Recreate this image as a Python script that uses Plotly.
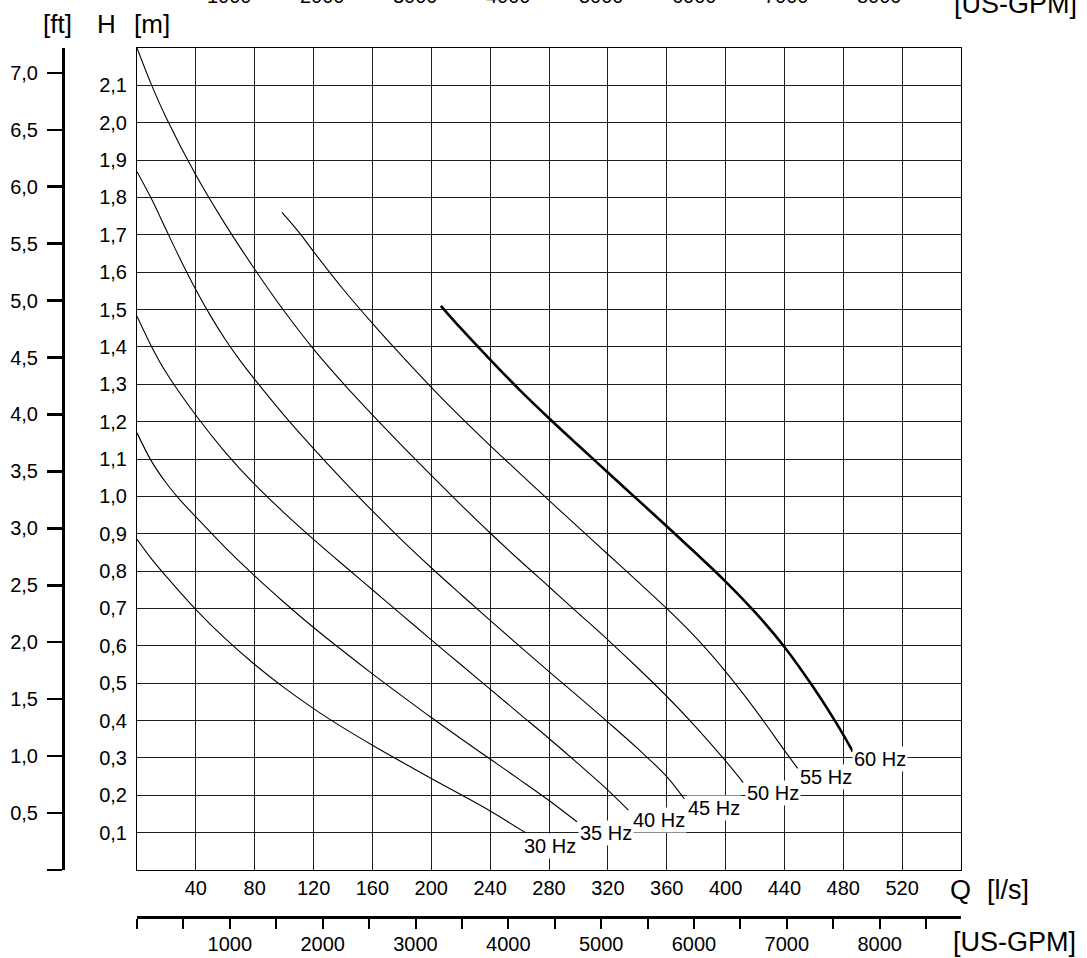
import plotly.graph_objects as go

FONT = "Liberation Sans, Arial, Helvetica, sans-serif"

# unit conversions
GPM_PER_LPS = 15.850323
FT_PER_M = 1.0 / 0.3048

Q_MAX = 560
H_MAX = 2.2

# axis ticks / labels
Q_TICKS = [40, 80, 120, 160, 200, 240, 280, 320, 360, 400, 440, 480, 520]
H_TICKS = [0.1, 0.2, 0.3, 0.4, 0.5, 0.6, 0.7, 0.8, 0.9, 1.0, 1.1,
           1.2, 1.3, 1.4, 1.5, 1.6, 1.7, 1.8, 1.9, 2.0, 2.1]
FT_TICKS = [0, 0.5, 1.0, 1.5, 2.0, 2.5, 3.0, 3.5, 4.0, 4.5, 5.0, 5.5, 6.0, 6.5, 7.0]
FT_LABELS = ["", "0,5", "1,0", "1,5", "2,0", "2,5", "3,0", "3,5", "4,0",
             "4,5", "5,0", "5,5", "6,0", "6,5", "7,0"]
GPM_TICKS = [0, 500, 1000, 1500, 2000, 2500, 3000, 3500, 4000, 4500,
             5000, 5500, 6000, 6500, 7000, 7500, 8000, 8500]
GPM_LABELS = ["", "", "1000", "", "2000", "", "3000", "", "4000", "",
              "5000", "", "6000", "", "7000", "", "8000", ""]
TOP_GPM_VALUES = [1000, 2000, 3000, 4000, 5000, 6000, 7000, 8000]

# pump curves: Q [l/s], H [m]
Q_30 = [0, 10, 20, 40, 60, 80, 100, 120, 140, 160, 180, 200, 220, 240, 264]
H_30 = [0.885, 0.832, 0.785, 0.697, 0.619, 0.55, 0.488, 0.432, 0.381, 0.334,
        0.289, 0.245, 0.202, 0.158, 0.10]

Q_35 = [0, 10, 20, 30, 40, 60, 80, 100, 120, 140, 160, 180, 200, 220, 240,
        260, 280, 299]
H_35 = [1.17, 1.093, 1.035, 0.987, 0.945, 0.863, 0.787, 0.716, 0.649, 0.586,
        0.525, 0.466, 0.408, 0.352, 0.297, 0.242, 0.186, 0.129]

Q_40 = [0, 10, 20, 40, 60, 80, 100, 120, 140, 160, 180, 200, 220, 240, 260,
        280, 300, 320, 334]
H_40 = [1.482, 1.40, 1.33, 1.217, 1.118, 1.032, 0.956, 0.885, 0.817, 0.75,
        0.683, 0.616, 0.55, 0.484, 0.418, 0.352, 0.284, 0.214, 0.16]

Q_45 = [0, 10, 20, 30, 40, 50, 60, 70, 80, 100, 120, 140, 160, 180, 200, 220,
        240, 260, 280, 300, 320, 340, 360, 372]
H_45 = [1.869, 1.795, 1.712, 1.63, 1.553, 1.483, 1.42, 1.364, 1.313, 1.217,
        1.128, 1.043, 0.961, 0.883, 0.809, 0.738, 0.668, 0.599, 0.531, 0.464,
        0.396, 0.326, 0.25, 0.19]

Q_50 = [0, 10, 20, 40, 60, 80, 100, 120, 140, 160, 180, 200, 220, 240, 260,
        280, 300, 320, 340, 360, 380, 400, 412]
H_50 = [2.2, 2.1, 2.012, 1.86, 1.728, 1.608, 1.496, 1.394, 1.303, 1.218,
        1.136, 1.056, 0.978, 0.902, 0.829, 0.758, 0.687, 0.616, 0.542, 0.465,
        0.382, 0.292, 0.234]

Q_55 = [98.5, 110, 120, 140, 160, 180, 200, 220, 240, 260, 280, 300, 320,
        340, 360, 380, 400, 420, 440, 449]
H_55 = [1.76, 1.707, 1.655, 1.555, 1.463, 1.376, 1.292, 1.212, 1.136, 1.062,
        0.989, 0.917, 0.845, 0.773, 0.70, 0.621, 0.531, 0.43, 0.32, 0.272]

Q_60 = [206.5, 220, 240, 260, 280, 300, 320, 340, 360, 380, 400, 420, 440,
        460, 475, 486.5]
H_60 = [1.51, 1.45, 1.366, 1.285, 1.209, 1.136, 1.064, 0.992, 0.92, 0.847,
        0.772, 0.69, 0.597, 0.487, 0.395, 0.317]

CURVE_NAMES = ["30 Hz", "35 Hz", "40 Hz", "45 Hz", "50 Hz", "55 Hz", "60 Hz"]
CURVE_Q = [Q_30, Q_35, Q_40, Q_45, Q_50, Q_55, Q_60]
CURVE_H = [H_30, H_35, H_40, H_45, H_50, H_55, H_60]
CURVE_WIDTH = [1.1, 1.1, 1.1, 1.1, 1.1, 1.1, 2.6]

# curve label positions (text centres) in Q / H
LABEL_Q = [280.5, 319.0, 354.7, 392.0, 432.0, 468.4, 505.0]
LABEL_H = [0.063, 0.099, 0.134, 0.166, 0.205, 0.250, 0.297]

# layout geometry (pixels)
W, H = 1087, 958
ML, MR, MT, MB = 63, 126, 48, 41
PLOT_LEFT, PLOT_BOTTOM = 137, 870
paper_w = W - ML - MR
paper_h = H - MT - MB
X0 = (PLOT_LEFT - ML) / paper_w
Y0 = (H - MB - PLOT_BOTTOM) / paper_h

fig = go.Figure()
for name, q, h, w in zip(CURVE_NAMES, CURVE_Q, CURVE_H, CURVE_WIDTH):
    fig.add_trace(go.Scatter(
        x=q, y=h, mode="lines", name=name,
        line=dict(color="black", width=w, shape="spline", smoothing=1.0),
        hoverinfo="skip", xaxis="x", yaxis="y"))

# invisible helper traces so the secondary scales (US-GPM, ft) are drawn
fig.add_trace(go.Scatter(x=[0], y=[0], xaxis="x2", yaxis="y", mode="markers",
                         marker=dict(opacity=0, size=1), hoverinfo="skip"))
fig.add_trace(go.Scatter(x=[0], y=[0], xaxis="x", yaxis="y2", mode="markers",
                         marker=dict(opacity=0, size=1), hoverinfo="skip"))

annotations = []
for name, lq, lh in zip(CURVE_NAMES, LABEL_Q, LABEL_H):
    annotations.append(dict(
        x=lq, y=lh, xref="x", yref="y", text=name, showarrow=False,
        font=dict(family=FONT, size=20, color="black"),
        bgcolor="white", borderpad=1, xanchor="center", yanchor="middle"))

# partially clipped top US-GPM scale
for g in TOP_GPM_VALUES:
    annotations.append(dict(
        x=g / GPM_PER_LPS, y=1, xref="x", yref="paper", text=str(g),
        showarrow=False, font=dict(family=FONT, size=20, color="black"),
        xanchor="center", yanchor="middle", yshift=MT + 4))
annotations.append(dict(
    x=1, y=1, xref="paper", yref="paper", text="[US-GPM]", showarrow=False,
    font=dict(family=FONT, size=27, color="black"),
    xanchor="left", yanchor="middle", xshift=-9, yshift=MT - 4))


def pix_note(text, px, py, size=26, xanchor="center"):
    return dict(x=0, y=1, xref="paper", yref="paper", text=text,
                showarrow=False, font=dict(family=FONT, size=size, color="black"),
                xanchor=xanchor, yanchor="middle",
                xshift=px - ML, yshift=MT - py)


annotations += [
    pix_note("[ft]", 57.5, 24),
    pix_note("H", 106, 24),
    pix_note("[m]", 151.5, 24),
    pix_note("Q", 960, 890, size=27),
    pix_note("[l/s]", 1008, 890, size=27),
    pix_note("[US-GPM]", 951, 942, size=27, xanchor="left"),
]

grid_col = "#1e1e1e"
fig.update_layout(
    width=W, height=H, autosize=False,
    margin=dict(l=ML, r=MR, t=MT, b=MB, pad=0, autoexpand=False),
    paper_bgcolor="white", plot_bgcolor="white",
    showlegend=False, separators=",.",
    font=dict(family=FONT, size=20, color="black"),
    xaxis=dict(domain=[X0, 1], range=[0, Q_MAX], tickvals=Q_TICKS,
               showgrid=True, gridcolor=grid_col, gridwidth=1,
               showline=True, mirror=True, linecolor="black", linewidth=1,
               ticks="", zeroline=False, anchor="y", fixedrange=True,
               automargin=False,
               ticklabelstandoff=0, tickfont=dict(size=20)),
    yaxis=dict(domain=[Y0, 1], range=[0, H_MAX], tickvals=H_TICKS,
               tickformat=".1f",
               showgrid=True, gridcolor=grid_col, gridwidth=1,
               showline=True, mirror=True, linecolor="black", linewidth=1,
               ticks="", zeroline=False, anchor="x", fixedrange=True,
               automargin=False,
               ticklabelstandoff=5, tickfont=dict(size=20)),
    xaxis2=dict(domain=[X0, 1], overlaying="x", anchor="free", position=0,
                side="bottom", range=[0, Q_MAX * GPM_PER_LPS],
                tickvals=GPM_TICKS, ticktext=GPM_LABELS,
                ticks="outside", ticklen=10, tickwidth=2, tickcolor="black",
                showline=True, linewidth=2.5, linecolor="black",
                showgrid=False, zeroline=False, fixedrange=True,
                automargin=False,
                ticklabelstandoff=-2, tickfont=dict(size=20)),
    yaxis2=dict(domain=[Y0, 1], overlaying="y", anchor="free", position=0,
                side="left", range=[0, H_MAX * FT_PER_M],
                tickvals=FT_TICKS, ticktext=FT_LABELS,
                ticks="outside", ticklen=15, tickwidth=2.5, tickcolor="black",
                showline=True, linewidth=2.5, linecolor="black",
                showgrid=False, zeroline=False, fixedrange=True,
                automargin=False,
                ticklabelstandoff=5, tickfont=dict(size=20)),
    annotations=annotations,
)

fig.write_html("out.html", config={"displayModeBar": False, "staticPlot": True},
               post_script="document.body.style.margin='0px';")
